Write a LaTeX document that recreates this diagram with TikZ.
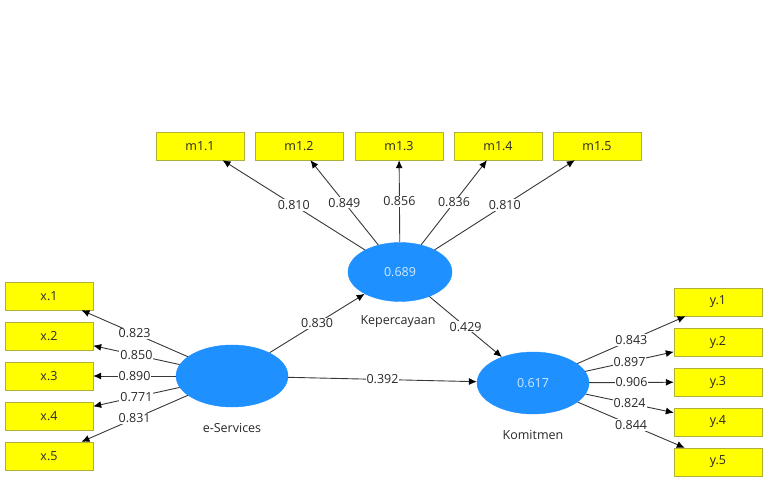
\documentclass[tikz,border=0pt]{standalone}
\usepackage{fontspec}
\setmainfont{Open Sans}
\usetikzlibrary{shapes.geometric, arrows.meta, positioning}

\definecolor{latentblue}{RGB}{30,144,255}
\definecolor{itemyellow}{RGB}{255,255,0}
\definecolor{itemborder}{RGB}{175,175,60}
\definecolor{linegray}{RGB}{55,55,55}
\definecolor{textgray}{RGB}{40,40,40}

\tikzset{
    indicator/.style={draw=itemborder, fill=itemyellow, minimum width=88pt, minimum height=28pt,
        inner sep=0pt, text=textgray, font=\fontsize{12.5}{14}\selectfont},
    latent/.style={ellipse, draw=latentblue, fill=latentblue, inner sep=0pt,
        text=white!80!latentblue, font=\fontsize{12.5}{14}\selectfont},
    latentname/.style={text=textgray, font=\fontsize{12.5}{14}\selectfont},
    loading/.style={draw=linegray, line width=0.9pt, -{Latex[length=8pt,width=7pt,color=black]}},
    coef/.style={fill=white, inner sep=1pt, text=textgray, font=\fontsize{12.5}{14}\selectfont}
}

\begin{document}
\begin{tikzpicture}[x=1pt, y=-1pt]
    \useasboundingbox (0,0) rectangle (768,484);

    % Latent variables
    \node[latent, minimum width=104pt, minimum height=59pt] (kep) at (400,272) {0.689};
    \node[latent, minimum width=112pt, minimum height=62pt] (eserv) at (232,376) {};
    \node[latent, minimum width=112pt, minimum height=62pt] (kom) at (533,383) {0.617};
    \node[latentname] (kepname) at (398,322) {Kepercayaan};
    \node[latentname] (eservname) at (232,428) {e-Services};
    \node[latentname] (komname) at (533,435) {Komitmen};

    % Indicators
    \foreach \i/\x in {1/200, 2/299, 3/399, 4/498, 5/597}
        \node[indicator] (m\i) at (\x,146) {m1.\i};
    \foreach \i in {1,...,5}
        \node[indicator] (x\i) at (49,256+40*\i) {x.\i};
    \foreach \i in {1,...,5}
        \node[indicator] (y\i) at (718,262+40*\i) {y.\i};

    % Outer loadings
    \foreach \i/\v in {1/0.810, 2/0.849, 3/0.856, 4/0.836, 5/0.810}
        \draw[loading] (kep) -- (m\i) node[coef, pos=0.5] {\v};
    \foreach \i/\v in {1/0.823, 2/0.850, 3/0.890, 4/0.771, 5/0.831}
        \draw[loading] (eserv) -- (x\i) node[coef, pos=0.5] {\v};
    \foreach \i/\v in {1/0.843, 2/0.897, 3/0.906, 4/0.824, 5/0.844}
        \draw[loading] (kom) -- (y\i) node[coef, pos=0.5] {\v};

    % Path coefficients
    \draw[loading] (eserv) -- (kep) node[coef, pos=0.5] {0.830};
    \draw[loading] (kep) -- (kom) node[coef, pos=0.5] {0.429};
    \draw[loading] (eserv) -- (kom) node[coef, pos=0.5] {0.392};
\end{tikzpicture}
\end{document}
